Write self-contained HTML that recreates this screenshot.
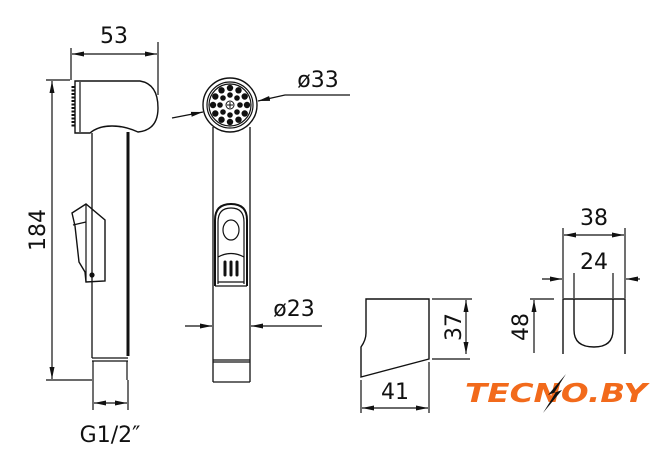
<!DOCTYPE html>
<html><head><meta charset="utf-8"><style>
html,body{margin:0;padding:0;background:#fff;width:660px;height:463px;overflow:hidden}
svg{display:block}
text{font-family:"DejaVu Sans","Liberation Sans",sans-serif;fill:#111}
</style></head><body>
<svg width="660" height="463" viewBox="0 0 660 463" xmlns="http://www.w3.org/2000/svg">
<defs>
<marker id="a" viewBox="0 0 12 6" refX="12" refY="3" markerWidth="12" markerHeight="6" orient="auto-start-reverse" markerUnits="userSpaceOnUse"><path d="M0,0.5 L12,3 L0,5.5 Z" fill="#111" stroke="none"/></marker>
</defs>
<g stroke="#111" fill="none" stroke-width="1.2">
<path d="M75,81 L140,81 Q158,84 158,108 Q158,130 138,132 Q125,126 112,126 Q98,126 90,133 L75,133 Z" stroke-width="1.4"/>
<line x1="80" y1="82" x2="80" y2="132"/>
<path d="M73,86 L73,128" stroke-width="3" stroke-dasharray="2 1.5"/>
<line x1="92" y1="133" x2="92" y2="358" stroke-width="1.3"/>
<line x1="128" y1="132" x2="128" y2="356" stroke-width="3"/>
<path d="M92,358 L128,358 M92,361 L128,361" />
<path d="M93,361 L93,380 M127,361 L127,380"/>
<path d="M86,204 L72,213 L75,226 L79,262 L85,272 L86,282 L105,281 L105,220 Z" stroke-width="1.4"/>
<line x1="86" y1="204" x2="86" y2="282"/>
<line x1="73" y1="225" x2="86" y2="222"/>
<circle cx="92" cy="275" r="2" fill="#111"/>
<path d="M71,48 L71,80 M158,42 L158,95"/>
<line x1="72" y1="54" x2="157" y2="54" marker-start="url(#a)" marker-end="url(#a)"/>
<path d="M46,80 L70,80 M46,380 L92,380"/>
<line x1="52" y1="81" x2="52" y2="379" marker-start="url(#a)" marker-end="url(#a)"/>
<path d="M93,380 L93,410 M128,380 L128,410"/>
<line x1="94" y1="403" x2="127" y2="403" marker-start="url(#a)" marker-end="url(#a)"/>
<circle cx="230" cy="105" r="27" stroke-width="1.4"/>
<circle cx="230" cy="105" r="23"/>
<circle cx="230" cy="105" r="21"/>
<line x1="213" y1="127" x2="213" y2="382" stroke-width="1.3"/>
<line x1="250" y1="127" x2="250" y2="382" stroke-width="1.3"/>
<path d="M213,360 L250,360 M213,362 L250,362 M213,382 L250,382"/>
<path d="M215,286 L215,220 Q215,204 231,204 Q247,204 247,220 L247,286" stroke-width="2"/>
<path d="M218,284 L218,222 Q218,208 231,208 Q244,208 244,222 L244,284"/>
<ellipse cx="231" cy="230" rx="8" ry="10"/>
<path d="M218,257 Q231,250 244,257"/>
<path d="M225,262 L225,275 M231,262 L231,275 M237,262 L237,275" stroke-width="3" stroke-linecap="round"/>
<path d="M215,286 L247,286 M218,282 L244,282"/>
<path d="M350,95 L285,95 L258,101" marker-end="url(#a)"/>
<line x1="172" y1="118" x2="203" y2="112" marker-end="url(#a)"/>
<line x1="185" y1="326" x2="212" y2="326" marker-end="url(#a)"/>
<line x1="322" y1="326" x2="251" y2="326" marker-end="url(#a)"/>
<path d="M366,299 L429,299 L429,359 L361,377 L361,347 Q366,340 366,333 Z" stroke-width="1.4"/>
<path d="M432,299 L472,299 M432,359 L470,359"/>
<line x1="466" y1="300" x2="466" y2="354" marker-start="url(#a)" marker-end="url(#a)"/>
<path d="M361,380 L361,413 M429,362 L429,413"/>
<line x1="362" y1="408" x2="428" y2="408" marker-start="url(#a)" marker-end="url(#a)"/>
<path d="M563,354 L563,299 L625,299 L625,354" stroke-width="1.4"/>
<path d="M574,299 L574,330 Q574,347 594,347 Q613,347 613,330 L613,299" stroke-width="1.4"/>
<path d="M563,228 L563,298 M625,228 L625,298"/>
<line x1="564" y1="235" x2="624" y2="235" marker-start="url(#a)" marker-end="url(#a)"/>
<path d="M574,273 L574,298 M613,273 L613,298"/>
<line x1="542" y1="279" x2="562" y2="279" marker-end="url(#a)"/>
<line x1="640" y1="279" x2="626" y2="279" marker-end="url(#a)"/>
<path d="M530,299 L554,299"/>
<line x1="534" y1="353" x2="534" y2="300" marker-end="url(#a)"/>
</g>
<g fill="#111">
<circle cx="247" cy="105" r="3.2"/><circle cx="244.7" cy="113.5" r="3.2"/><circle cx="238.5" cy="119.7" r="3.2"/><circle cx="230" cy="122" r="3.2"/><circle cx="221.5" cy="119.7" r="3.2"/><circle cx="215.3" cy="113.5" r="3.2"/><circle cx="213" cy="105" r="3.2"/><circle cx="215.3" cy="96.5" r="3.2"/><circle cx="221.5" cy="90.3" r="3.2"/><circle cx="230" cy="88" r="3.2"/><circle cx="238.5" cy="90.3" r="3.2"/><circle cx="244.7" cy="96.5" r="3.2"/>
<circle cx="240" cy="105" r="2.8"/><circle cx="237" cy="112" r="2.8"/><circle cx="230" cy="115" r="2.8"/><circle cx="223" cy="112" r="2.8"/><circle cx="220" cy="105" r="2.8"/><circle cx="223" cy="98" r="2.8"/><circle cx="230" cy="95" r="2.8"/><circle cx="237" cy="98" r="2.8"/>
</g>
<circle cx="230" cy="105" r="4" fill="#fff" stroke="#111"/>
<path d="M227,105 L233,105 M230,102 L230,108" stroke="#111"/>
<g font-size="22">
<text x="114" y="43" text-anchor="middle">53</text>
<text transform="translate(45,230) rotate(-90)" text-anchor="middle">184</text>
<text x="110" y="442" text-anchor="middle">G1/2″</text>
<text x="318" y="87" text-anchor="middle">ø33</text>
<text x="294" y="316" text-anchor="middle">ø23</text>
<text transform="translate(461,327) rotate(-90)" text-anchor="middle">37</text>
<text x="395" y="399" text-anchor="middle">41</text>
<text x="594" y="225" text-anchor="middle">38</text>
<text x="594" y="269" text-anchor="middle">24</text>
<text transform="translate(528,327) rotate(-90)" text-anchor="middle">48</text>
</g>
<text x="465" y="402" font-family="DejaVu Sans,sans-serif" font-weight="bold" font-style="italic" font-size="26" style="fill:#f26a1b" textLength="182" lengthAdjust="spacingAndGlyphs">TECNO.BY</text>
<path d="M566,374 L548,395 L556,392 L543,413 L562,390 L554,393 Z" fill="#111"/>
</svg>
</body></html>
